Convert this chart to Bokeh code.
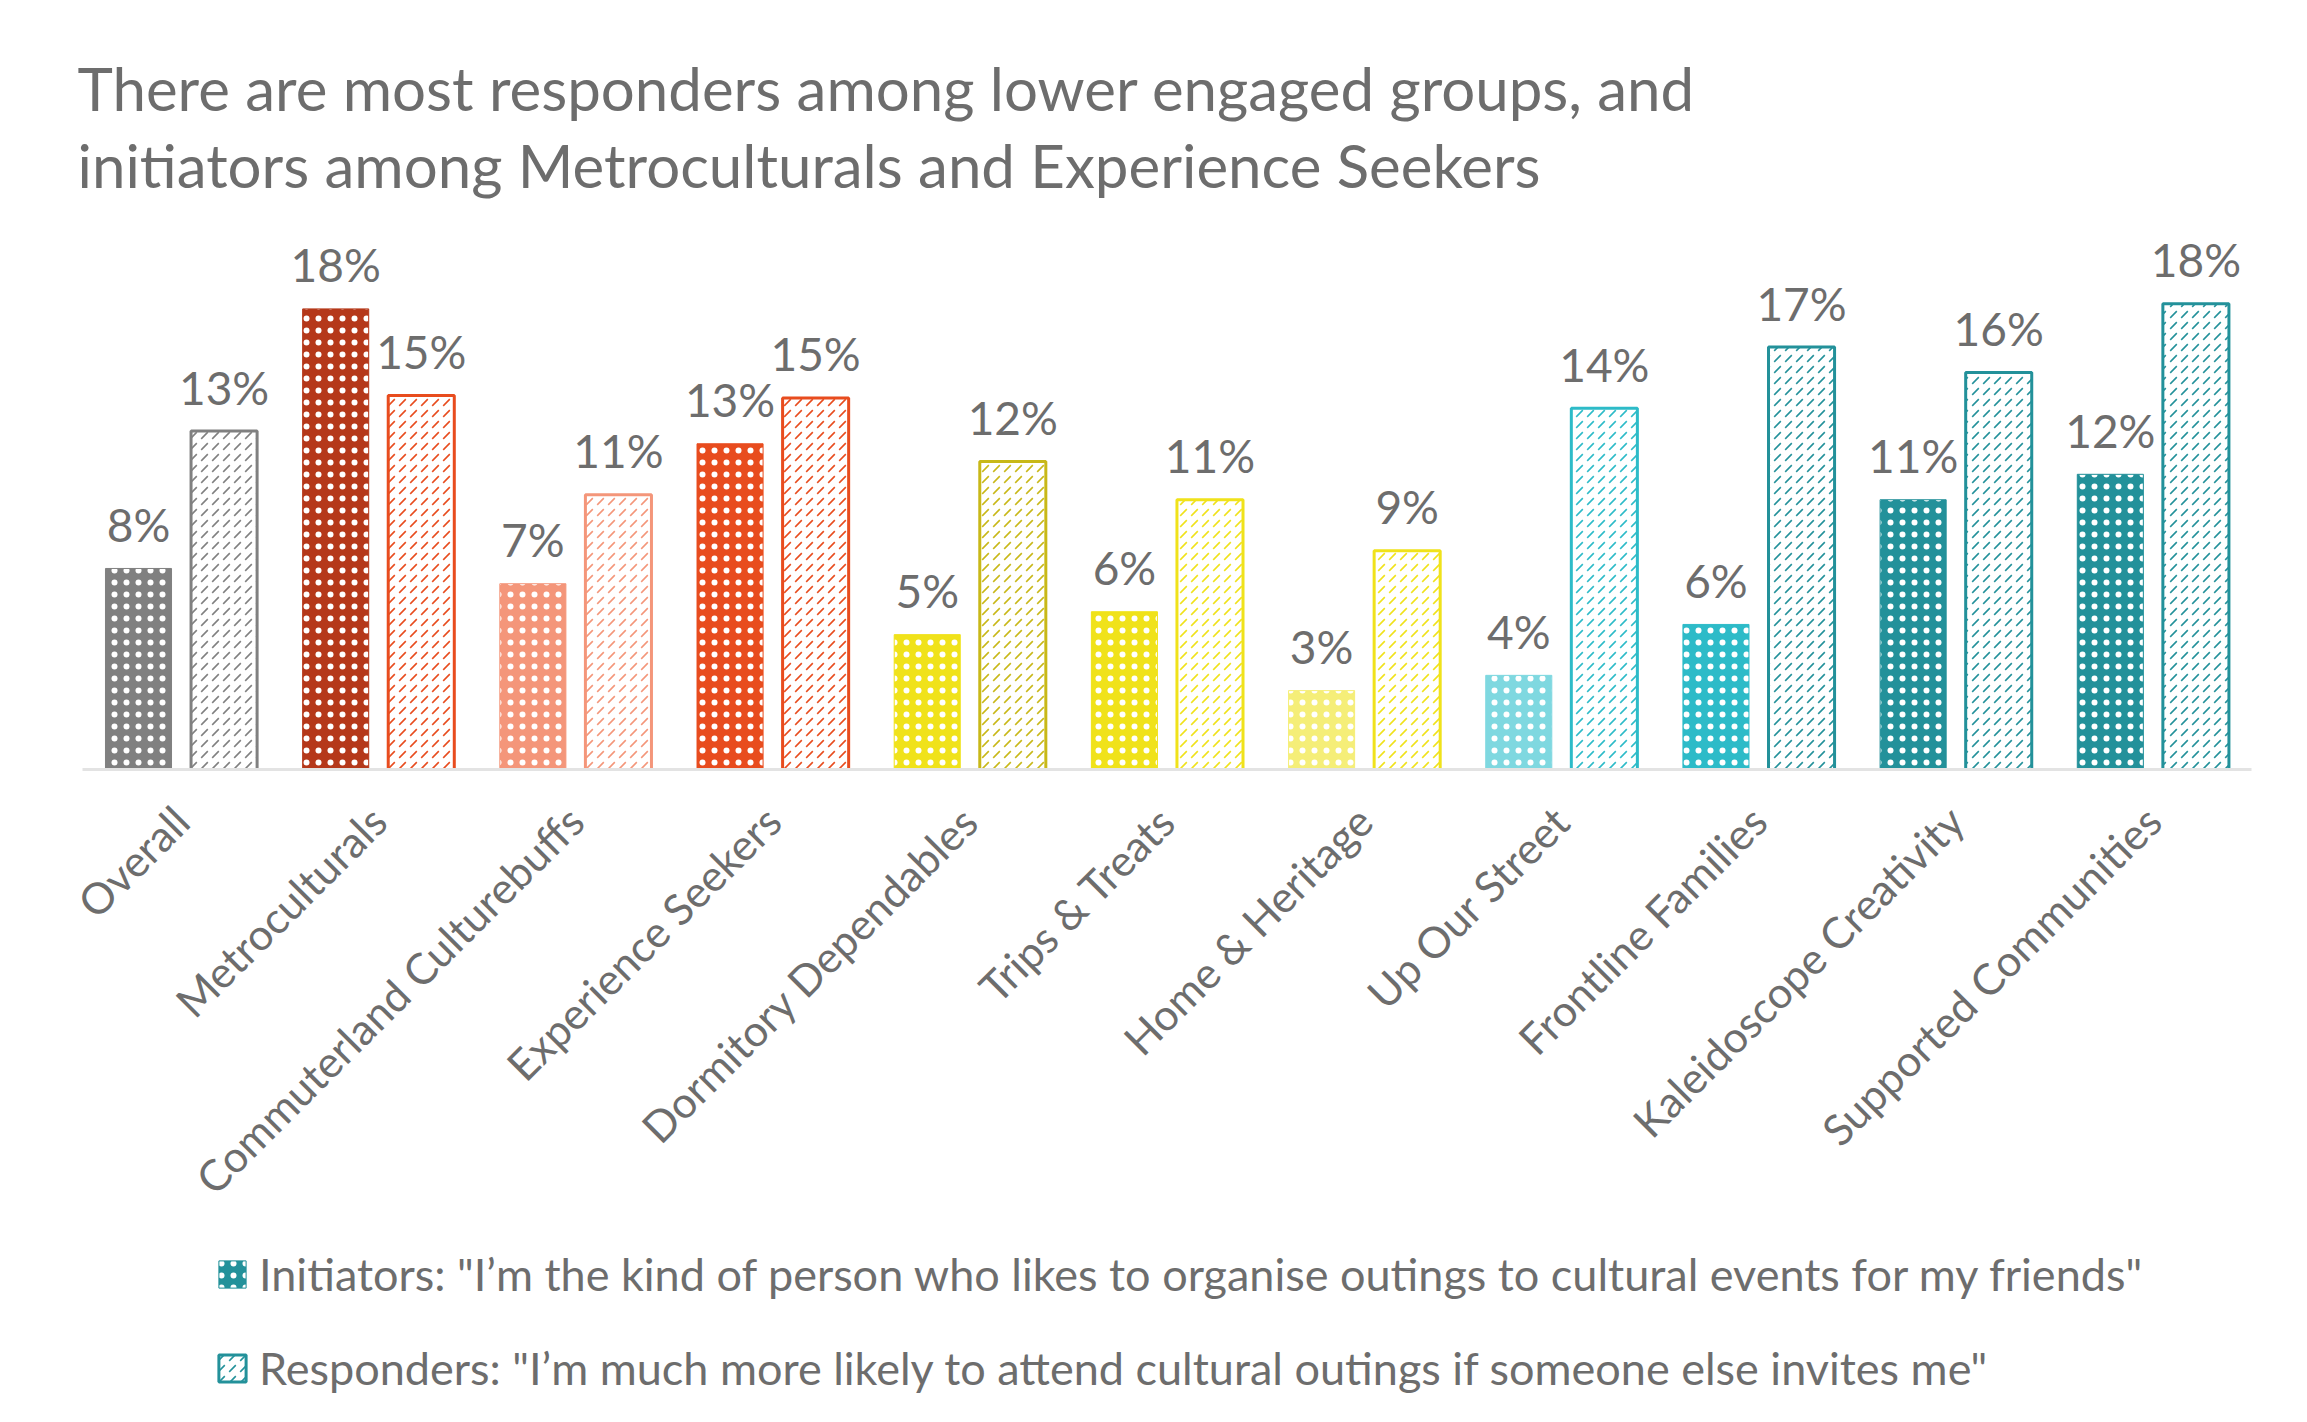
import math
from bokeh.plotting import figure
from bokeh.layouts import column
from bokeh.models import (ColumnDataSource, FactorRange, Range1d, Title, Legend, LegendItem)
from bokeh.transform import dodge
from bokeh.core.properties import value
from bokeh.embed import file_html
from bokeh.resources import INLINE

categories = ["Overall", "Metroculturals", "Commuterland Culturebuffs", "Experience Seekers",
              "Dormitory Dependables", "Trips & Treats", "Home & Heritage", "Up Our Street",
              "Frontline Families", "Kaleidoscope Creativity", "Supported Communities"]
initiators = [7.9, 18.1, 7.3, 12.8, 5.3, 6.2, 3.1, 3.7, 5.7, 10.6, 11.6]
responders = [13.3, 14.7, 10.8, 14.6, 12.1, 10.6, 8.6, 14.2, 16.6, 15.6, 18.3]
init_colors = ["#808080", "#B5381A", "#F4967A", "#E84C1E", "#F0E21A", "#F0E21A",
               "#F5EE78", "#7FD8E0", "#2DBBC8", "#23919A", "#23919A"]
resp_colors = ["#808080", "#E84C1E", "#F4967A", "#E84C1E", "#C8B818", "#F0E21A",
               "#F0E21A", "#2DBBC8", "#23919A", "#23919A", "#23919A"]
init_label = 'Initiators: "I\u2019m the kind of person who likes to organise outings to cultural events for my friends"'
resp_label = 'Responders: "I\u2019m much more likely to attend cultural outings if someone else invites me"'
title1 = "There are most responders among lower engaged groups, and"
title2 = "initiators among Metroculturals and Experience Seekers"

TXT = "#6d6d6d"
FONT = "Lato"
OFF_I, OFF_R, W = -0.216, 0.218, 0.335
INIT_STYLE = dict(fill_color="init_color", line_color="init_color", line_width=1,
                  hatch_pattern="dot", hatch_color="white", hatch_scale=12, hatch_weight=0.3)
RESP_STYLE = dict(fill_color="white", line_color="resp_color", line_width=3,
                  hatch_pattern="right_diagonal_dash", hatch_color="resp_color",
                  hatch_scale=11, hatch_weight=1.6)

src = ColumnDataSource(dict(
    cat=categories, init=initiators, resp=responders,
    init_color=init_colors, resp_color=resp_colors,
    init_lbl=[f"{v:.0f}%" for v in initiators],
    resp_lbl=[f"{v:.0f}%" for v in responders],
))

p = figure(width=2291, height=1240, x_range=FactorRange(*categories, range_padding=0),
           y_range=Range1d(0, 22.36), output_backend="svg", toolbar_location=None,
           y_axis_location=None, min_border_left=82, min_border_right=40,
           min_border_top=200, min_border_bottom=471)
p.outline_line_color = None
p.xgrid.grid_line_color = None
p.ygrid.grid_line_color = None

p.vbar(x=dodge("cat", OFF_I, range=p.x_range), top="init", width=W, source=src, **INIT_STYLE)
p.vbar(x=dodge("cat", OFF_R, range=p.x_range), top="resp", width=W, source=src, **RESP_STYLE)

for off, col in ((OFF_I, "init"), (OFF_R, "resp")):
    p.text(x=dodge("cat", off, range=p.x_range), y=col, text=col + "_lbl", source=src,
           text_align="center", text_baseline="alphabetic", y_offset=-44,
           text_font=value(FONT), text_font_size="46px", text_color=TXT)

ax = p.xaxis[0]
ax.major_label_orientation = math.pi / 4
ax.major_label_text_font = FONT
ax.major_label_text_font_size = "43px"
ax.major_label_text_color = TXT
ax.major_label_standoff = 38
ax.axis_line_color = "#e3e3e3"
ax.axis_line_width = 3
ax.major_tick_line_color = None
ax.minor_tick_line_color = None

p.add_layout(Title(text=title2, align="left", text_font=FONT, text_font_size="60px",
                   text_color=TXT, text_font_style="normal", offset=-5, standoff=0), "above")
p.add_layout(Title(text=title1, align="left", text_font=FONT, text_font_size="60px",
                   text_color=TXT, text_font_style="normal", offset=-5, standoff=6), "above")

# legend strip below the chart: hidden copies of the bar renderers serve as legend keys
lg = figure(width=2291, height=166, x_range=FactorRange(*categories, range_padding=0),
            y_range=Range1d(0, 22.36), output_backend="svg", toolbar_location=None,
            x_axis_location=None, y_axis_location=None, min_border=0,
            min_border_left=82, min_border_right=40)
lg.outline_line_color = None
lg.xgrid.grid_line_color = None
lg.ygrid.grid_line_color = None
li = lg.vbar(x=dodge("cat", OFF_I, range=lg.x_range), top="init", width=W, source=src,
             **INIT_STYLE)
lr = lg.vbar(x=dodge("cat", OFF_R, range=lg.x_range), top="resp", width=W, source=src,
             **RESP_STYLE)
li.visible = False
lr.visible = False
last = len(categories) - 1
legend = Legend(items=[LegendItem(label=init_label, renderers=[li], index=last),
                       LegendItem(label=resp_label, renderers=[lr], index=last)],
                location=(133, 11), orientation="vertical",
                label_text_font=FONT, label_text_font_size="45px", label_text_color=TXT,
                glyph_width=34, glyph_height=34, label_standoff=10, spacing=40,
                padding=0, margin=0, border_line_color=None, background_fill_alpha=0)
lg.add_layout(legend, "center")

open("out.html", "w").write(file_html(column(p, lg, spacing=0), INLINE))
